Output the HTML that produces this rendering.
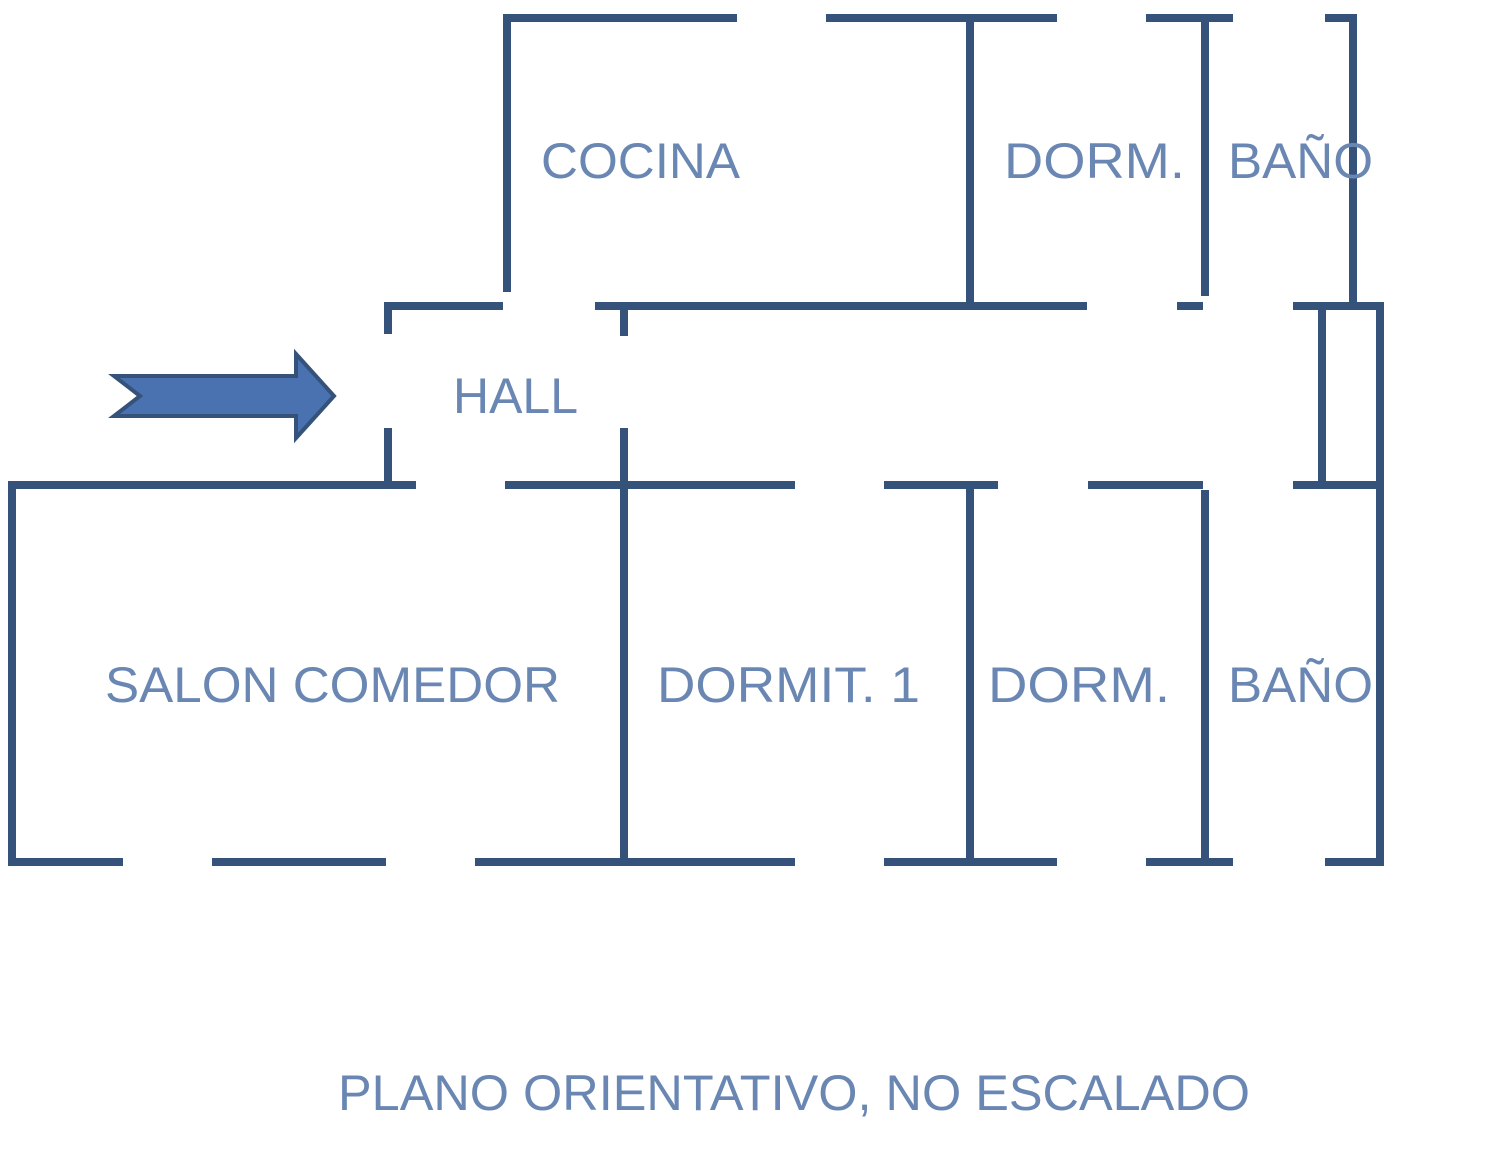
<!DOCTYPE html>
<html><head><meta charset="utf-8"><style>
html,body{margin:0;padding:0;background:#fff;}
svg{display:block}
text{font-family:"Liberation Sans",sans-serif;fill:#6a87b3;font-size:50px;}
</style></head><body>
<svg width="1500" height="1149" viewBox="0 0 1500 1149" xmlns="http://www.w3.org/2000/svg">
<g stroke="#34527a" stroke-width="8" fill="none" stroke-linecap="butt">
<line x1="503" y1="18" x2="737" y2="18"/>
<line x1="826" y1="18" x2="1057" y2="18"/>
<line x1="1146" y1="18" x2="1233" y2="18"/>
<line x1="1325" y1="18" x2="1356" y2="18"/>
<line x1="507" y1="14" x2="507" y2="292"/>
<line x1="970" y1="18" x2="970" y2="306"/>
<line x1="1205" y1="18" x2="1205" y2="296"/>
<line x1="1353" y1="14" x2="1353" y2="306"/>
<line x1="384" y1="306" x2="503" y2="306"/>
<line x1="595" y1="306" x2="1087" y2="306"/>
<line x1="1177" y1="306" x2="1203" y2="306"/>
<line x1="1293" y1="306" x2="1384" y2="306"/>
<line x1="388" y1="302" x2="388" y2="334"/>
<line x1="388" y1="428" x2="388" y2="486"/>
<line x1="624" y1="306" x2="624" y2="336"/>
<line x1="624" y1="428" x2="624" y2="862"/>
<line x1="1322" y1="306" x2="1322" y2="486"/>
<line x1="1380" y1="302" x2="1380" y2="866"/>
<line x1="8" y1="485" x2="416" y2="485"/>
<line x1="505" y1="485" x2="795" y2="485"/>
<line x1="884" y1="485" x2="998" y2="485"/>
<line x1="1088" y1="485" x2="1203" y2="485"/>
<line x1="1293" y1="485" x2="1384" y2="485"/>
<line x1="12" y1="481" x2="12" y2="866"/>
<line x1="970" y1="485" x2="970" y2="862"/>
<line x1="1205" y1="490" x2="1205" y2="862"/>
<line x1="8" y1="862" x2="123" y2="862"/>
<line x1="212" y1="862" x2="386" y2="862"/>
<line x1="475" y1="862" x2="795" y2="862"/>
<line x1="884" y1="862" x2="1057" y2="862"/>
<line x1="1146" y1="862" x2="1233" y2="862"/>
<line x1="1325" y1="862" x2="1384" y2="862"/>
</g>
<polygon points="114,376 296,376 296,354 334,396 296,438 296,416 114,416 140,396" fill="#4a72b0" stroke="#34527a" stroke-width="4"/>
<text x="541" y="178" textLength="199" lengthAdjust="spacingAndGlyphs">COCINA</text>
<text x="1004" y="178" textLength="181" lengthAdjust="spacingAndGlyphs">DORM.</text>
<text x="1228" y="178" textLength="145" lengthAdjust="spacingAndGlyphs">BAÑO</text>
<text x="453" y="413" textLength="125" lengthAdjust="spacingAndGlyphs">HALL</text>
<text x="105" y="702" textLength="455" lengthAdjust="spacingAndGlyphs">SALON COMEDOR</text>
<text x="657" y="702" textLength="263" lengthAdjust="spacingAndGlyphs">DORMIT. 1</text>
<text x="988" y="702" textLength="182" lengthAdjust="spacingAndGlyphs">DORM.</text>
<text x="1228" y="702" textLength="145" lengthAdjust="spacingAndGlyphs">BAÑO</text>
<text x="338" y="1110" font-size="48" textLength="912" lengthAdjust="spacingAndGlyphs">PLANO ORIENTATIVO, NO ESCALADO</text>
</svg>
</body></html>
